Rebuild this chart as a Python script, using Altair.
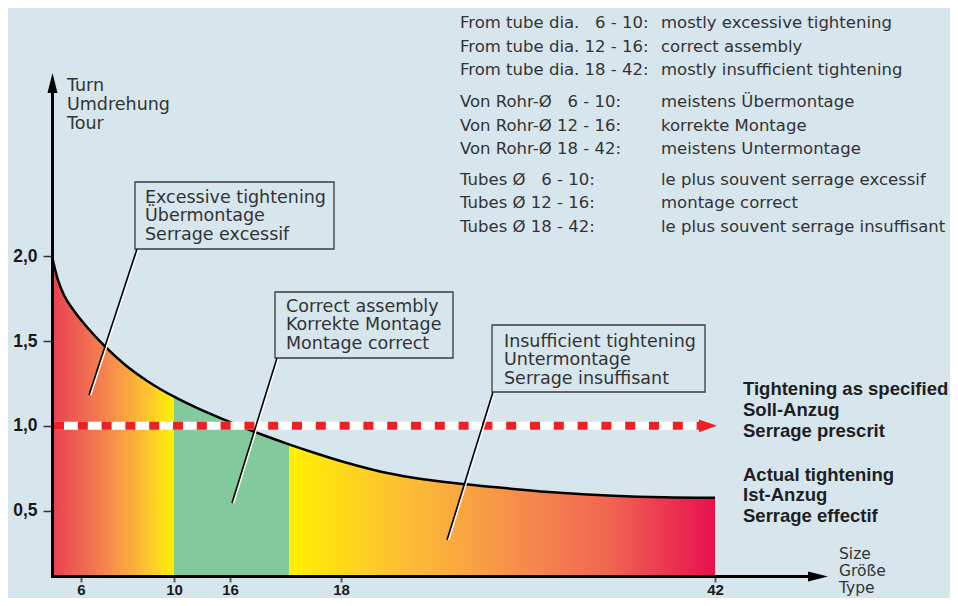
import json
import altair as alt
import pandas as pd

BG = "#d7e5ed"

# ---------------- data ----------------
size_labels = ["6", "10", "16", "18", "42"]
size_pos = [29, 122, 178, 289, 663]          # positions on the stylised size axis
turn_ticks = [0.5, 1.0, 1.5, 2.0]

curve_pos = [0, 6, 12.7, 22.7, 36, 52.7, 72.7, 96, 122, 146, 172.7, 196, 222.7, 237,
             261.3, 294.7, 328, 361.3, 411.3, 461.3, 511.3, 561.3, 611.3, 663]
curve_turn = [2.0, 1.86, 1.763, 1.674, 1.576, 1.470, 1.362, 1.262, 1.172, 1.103, 1.035,
              0.980, 0.921, 0.891, 0.843, 0.782, 0.731, 0.694, 0.657, 0.628, 0.604,
              0.588, 0.579, 0.576]

region_names = ["excessive", "correct", "insufficient"]
region_start = [0, 122, 237]
region_end = [122, 237, 663]

specified_turn = [1.0]
specified_start = [2]
specified_end = [647]
specified_tip = [656]

y_title = ["Turn", "Umdrehung", "Tour"]
x_title = ["Size", "Größe", "Type"]

box_excessive = ["Excessive tightening", "Übermontage", "Serrage excessif"]
box_correct = ["Correct assembly", "Korrekte Montage", "Montage correct"]
box_insufficient = ["Insufficient tightening", "Untermontage", "Serrage insuffisant"]

legend_specified = ["Tightening as specified", "Soll-Anzug", "Serrage prescrit"]
legend_actual = ["Actual tightening", "Ist-Anzug", "Serrage effectif"]

nb = "\u00a0\u00a0"
en_left = ["From tube dia. " + nb + "6 - 10:", "From tube dia. 12 - 16:", "From tube dia. 18 - 42:"]
en_right = ["mostly excessive tightening", "correct assembly", "mostly insufficient tightening"]
de_left = ["Von Rohr-Ø " + nb + "6 - 10:", "Von Rohr-Ø 12 - 16:", "Von Rohr-Ø 18 - 42:"]
de_right = ["meistens Übermontage", "korrekte Montage", "meistens Untermontage"]
fr_left = ["Tubes Ø " + nb + "6 - 10:", "Tubes Ø 12 - 16:", "Tubes Ø 18 - 42:"]
fr_right = ["le plus souvent serrage excessif", "montage correct", "le plus souvent serrage insuffisant"]

# ---------------- tables ----------------
rows = []
for name, a, b in zip(region_names, region_start, region_end):
    for p, t in zip(curve_pos, curve_turn):
        if a <= p <= b:
            rows.append({"region": name, "pos": p, "turn": t})
area_df = pd.DataFrame(rows)
curve_df = pd.DataFrame({"pos": curve_pos, "turn": curve_turn})
spec_df = pd.DataFrame({"start": specified_start, "end": specified_end,
                        "turn": specified_turn, "tip": specified_tip})
one = pd.DataFrame({"k": [0]})

W, H = 768, 505
xs = alt.Scale(domain=[0, 768], nice=False, zero=False)
ys = alt.Scale(domain=[0.12, 3.1], nice=False, zero=False)

x_axis = alt.Axis(
    values=size_pos,
    labelExpr=f"{json.dumps(size_labels)}[indexof({json.dumps(size_pos)}, datum.value)]",
    domain=False, grid=False, tickSize=5, tickColor="#5e5e5e", tickWidth=2,
    labelFont="Liberation Sans", labelFontWeight="bold", labelFontSize=15,
    labelColor="#1a1a1a", labelPadding=0, offset=2, title=None,
    labelFlush=False, labelOverlap=False,
)
y_axis = alt.Axis(
    values=turn_ticks,
    labelExpr="replace(format(datum.value, '.1f'), '.', ',')",
    domain=False, grid=False, tickSize=9, tickColor="#333333", tickWidth=1.5,
    labelFont="Liberation Sans", labelFontWeight="bold", labelFontSize=17.5,
    labelColor="#1a1a1a", labelPadding=6, title=None, labelFlush=False,
    labelOverlap=False,
)

X = alt.X("pos:Q", scale=xs, axis=x_axis)
Y = alt.Y("turn:Q", scale=ys, axis=y_axis)

grad_left = alt.Gradient(
    gradient="linear", x1=0, x2=1, y1=0, y2=0,
    stops=[alt.GradientStop(color="#e8414f", offset=0),
           alt.GradientStop(color="#f06652", offset=0.25),
           alt.GradientStop(color="#f6904a", offset=0.5),
           alt.GradientStop(color="#fcbe34", offset=0.75),
           alt.GradientStop(color="#fff100", offset=1)])
grad_right = alt.Gradient(
    gradient="linear", x1=0, x2=1, y1=0, y2=0,
    stops=[alt.GradientStop(color="#fff100", offset=0),
           alt.GradientStop(color="#fdc230", offset=0.25),
           alt.GradientStop(color="#f7954a", offset=0.5),
           alt.GradientStop(color="#f16552", offset=0.75),
           alt.GradientStop(color="#e8104f", offset=1)])

area_base = alt.Chart(area_df)
left_area = area_base.transform_filter(alt.datum.region == "excessive").mark_area(
    clip=True, interpolate="monotone", color=grad_left).encode(X, Y)
green_area = area_base.transform_filter(alt.datum.region == "correct").mark_area(
    clip=True, interpolate="monotone", color="#82c99b").encode(X, Y)
right_area = area_base.transform_filter(alt.datum.region == "insufficient").mark_area(
    clip=True, interpolate="monotone", color=grad_right).encode(X, Y)

curve = alt.Chart(curve_df).mark_line(
    interpolate="monotone", color="#000000", strokeWidth=2.5).encode(X, Y)

XS = alt.X("start:Q", scale=xs, axis=x_axis)
spec_white = alt.Chart(spec_df).mark_rule(color="#ffffff", strokeWidth=8).encode(
    x=XS, x2="end:Q", y=Y)
spec_red = alt.Chart(spec_df).mark_rule(color="#ee2024", strokeWidth=8,
                                        strokeDash=[10, 13.8]).encode(x=XS, x2="end:Q", y=Y)
spec_arrow = alt.Chart(spec_df).mark_point(
    shape="M-1,-0.72L1,0L-1,0.72Z", size=324, filled=True, color="#ee2024",
    opacity=1).encode(x=alt.X("tip:Q", scale=xs, axis=x_axis), y=Y)


def vrule(x, y, x2, y2, color, width):
    return alt.Chart(one).mark_rule(color=color, strokeWidth=width).encode(
        x=alt.value(x), y=alt.value(y), x2=alt.value(x2), y2=alt.value(y2))


def arrowhead(shape, x, y):
    return alt.Chart(one).mark_point(shape=shape, size=400, filled=True,
                                     color="#000000", opacity=1).encode(
        x=alt.value(x), y=alt.value(y))


def label(lines, x, y, size, lh, font="DejaVu Sans", weight="normal", color="#333333"):
    return alt.Chart(one).mark_text(
        align="left", baseline="alphabetic", font=font, fontSize=size,
        lineHeight=lh, fontWeight=weight, color=color).encode(
        x=alt.value(x), y=alt.value(y), text=alt.value(lines))


def box(x, y, x2, y2):
    return alt.Chart(one).mark_rect(fillOpacity=0, stroke="#3a3a3a",
                                    strokeWidth=1.3).encode(
        x=alt.value(x), y=alt.value(y), x2=alt.value(x2), y2=alt.value(y2))


def leader(x, y, x2, y2):
    return [vrule(x + 1.6, y, x2 + 1.6, y2, "#ffffff", 1.6),
            vrule(x, y, x2, y2, "#000000", 1.6)]


layers = [left_area, green_area, right_area, curve, spec_white, spec_red, spec_arrow,
          vrule(0.5, 20, 0.5, 508, "#000000", 3),
          vrule(-1, 506.5, 758, 506.5, "#000000", 3),
          arrowhead("M0,-1L0.5,1L-0.5,1Z", 0.5, 13),
          arrowhead("M1,0L-1,0.5L-1,-0.5Z", 766, 506.5)]
layers += leader(85, 179, 37, 325)
layers += leader(225, 288, 180, 433)
layers += leader(441, 322, 395, 470)
layers += [
    box(83, 112, 282, 179), box(223, 222, 401, 288), box(440, 255, 653, 322),
    label(box_excessive, 93, 132.7, 17.5, 18.5),
    label(box_correct, 234, 241.7, 17.5, 18.5),
    label(box_insufficient, 452, 276.7, 17.5, 18.5),
    label(y_title, 15, 20.7, 17.5, 19),
    label(x_title, 787, 488.5, 15.5, 17),
    label(legend_specified, 691, 325, 18.5, 20.8, font="Liberation Sans",
          weight="bold", color="#1e1e1e"),
    label(legend_actual, 691, 410.7, 18.5, 20.8, font="Liberation Sans",
          weight="bold", color="#1e1e1e"),
    label(en_left, 408, -41.7, 16.5, 23.3), label(en_right, 609, -41.7, 16.5, 23.3),
    label(de_left, 408, 37.3, 16.5, 23.3), label(de_right, 609, 37.3, 16.5, 23.3),
    label(fr_left, 408, 115, 16.5, 23.3), label(fr_right, 609, 115, 16.5, 23.3),
]

chart = alt.layer(*layers).properties(
    width=W, height=H,
    autosize=alt.AutoSizeParams(type="none"),
    padding={"left": 44, "top": 62, "right": 130, "bottom": 23},
).configure(background=BG).configure_view(strokeWidth=0)

chart.save("out.html", embed_options={"renderer": "svg", "actions": False})
